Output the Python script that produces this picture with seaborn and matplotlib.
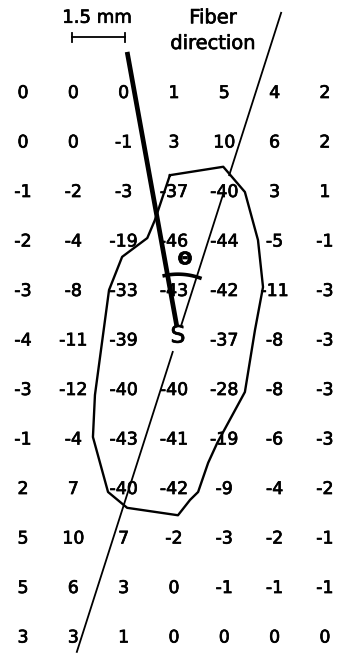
import numpy as np
import seaborn as sns
import matplotlib.pyplot as plt
import matplotlib.patheffects as pe
from matplotlib.colors import ListedColormap

# Potential map values, 12 rows x 7 columns ("S" = stimulus site)
row1 = ["0", "0", "0", "1", "5", "4", "2"]
row2 = ["0", "0", "-1", "3", "10", "6", "2"]
row3 = ["-1", "-2", "-3", "-37", "-40", "3", "1"]
row4 = ["-2", "-4", "-19", "-46", "-44", "-5", "-1"]
row5 = ["-3", "-8", "-33", "-43", "-42", "-11", "-3"]
row6 = ["-4", "-11", "-39", "S", "-37", "-8", "-3"]
row7 = ["-3", "-12", "-40", "-40", "-28", "-8", "-3"]
row8 = ["-1", "-4", "-43", "-41", "-19", "-6", "-3"]
row9 = ["2", "7", "-40", "-42", "-9", "-4", "-2"]
row10 = ["5", "10", "7", "-2", "-3", "-2", "-1"]
row11 = ["5", "6", "3", "0", "-1", "-1", "-1"]
row12 = ["3", "3", "1", "0", "0", "0", "0"]
labels = np.array([row1, row2, row3, row4, row5, row6, row7,
                   row8, row9, row10, row11, row12])

# outline of the region (grid units: column, row)
outline_col = [3.42, 4.48, 4.91, 5.17, 5.27, 5.11, 4.91, 4.36, 4.18, 3.98,
               3.82, 3.58, 2.57, 2.19, 1.89, 1.93, 2.21, 2.47, 2.97, 3.12, 3.42]
outline_row = [2.16, 1.99, 2.50, 3.47, 4.42, 5.29, 6.54, 7.57, 7.97, 8.56,
               8.72, 9.03, 8.88, 8.56, 7.45, 6.60, 4.48, 3.81, 3.43, 3.07, 2.16]

# fiber direction line (pieces) and thick line toward S
fiber_rows = [(-1.12, 2.16), (2.50, 5.19), (5.73, 11.79)]
fiber_top = (5.63, -1.12)
fiber_bottom = (1.57, 11.79)
thick_col = [2.57, 3.56]
thick_row = [-0.33, 5.23]
vertex = (3.58, 5.45)

values = np.full(labels.shape, 0.0)
values[labels == "S"] = np.nan

ink = [pe.withStroke(linewidth=0.5, foreground="black")]

fig = plt.figure(figsize=(3.4, 6.55), dpi=100)
ax = fig.add_axes([0, 0, 1, 1])
sns.heatmap(values, annot=np.where(labels == "S", "", labels), fmt="",
            cmap=ListedColormap(["white"]), cbar=False, ax=ax,
            annot_kws={"color": "black", "fontsize": 12.5, "path_effects": ink})
ax.text(vertex[0], vertex[1] - 0.05, "S", ha="center", va="center",
        fontsize=17, color="black", path_effects=ink)

# outline
ax.plot(outline_col, outline_row, color="black", lw=1.7)

# fiber direction (thin) line with gaps
slope = (fiber_bottom[0] - fiber_top[0]) / (fiber_bottom[1] - fiber_top[1])
for r0, r1 in fiber_rows:
    c0 = fiber_top[0] + slope * (r0 - fiber_top[1])
    c1 = fiber_top[0] + slope * (r1 - fiber_top[1])
    ax.plot([c0, c1], [r0, r1], color="black", lw=1.3)

# thick line
ax.plot(thick_col, thick_row, color="black", lw=3.4, solid_capstyle="butt")

# angle arc
a1 = np.arctan2(thick_row[0] - vertex[1], thick_col[0] - vertex[0]) - 0.04
a2 = np.arctan2(-1.0, -slope) + 0.04
t = np.linspace(a1, a2, 40)
ax.plot(vertex[0] + 1.29 * np.cos(t), vertex[1] + 1.29 * np.sin(t),
        color="black", lw=2.6)
ax.text(3.72, 3.86, "Θ", ha="center", va="center", fontsize=12.5,
        fontweight="bold", color="black", path_effects=ink)

# scale bar
ax.plot([1.47, 2.53], [-0.63, -0.63], color="black", lw=1.3)
ax.plot([1.47, 1.47], [-0.72, -0.54], color="black", lw=1.3)
ax.plot([2.53, 2.53], [-0.72, -0.54], color="black", lw=1.3)
ax.text(1.97, -1.02, "1.5 mm", ha="center", va="center", fontsize=13,
        path_effects=ink)
ax.text(4.28, -1.02, "Fiber", ha="center", va="center", fontsize=14,
        path_effects=ink)
ax.text(4.28, -0.50, "direction", ha="center", va="center", fontsize=14,
        path_effects=ink)

ax.set_xlim(0.043, 6.80)
ax.set_ylim(11.853, -1.379)
ax.axis("off")
fig.savefig("out.png", dpi=100, facecolor="white")
